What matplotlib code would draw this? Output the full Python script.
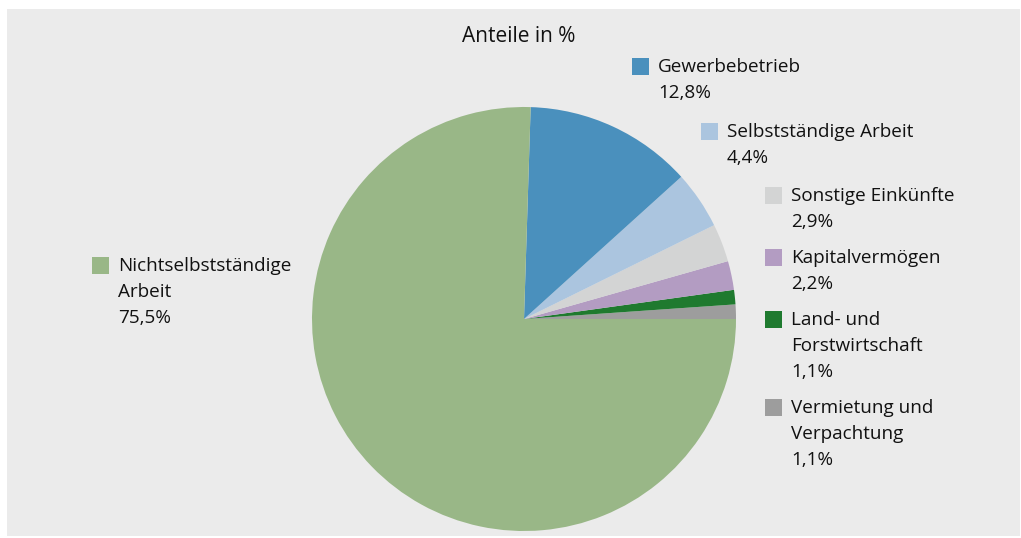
import matplotlib
matplotlib.use('agg')
import matplotlib.pyplot as plt
from matplotlib.patches import Rectangle

plt.rcParams['font.family'] = ['Open Sans', 'DejaVu Sans']

# data, order counter-clockwise from 3 o'clock
categories = ["Vermietung und\nVerpachtung", "Land- und\nForstwirtschaft", "Kapitalvermögen",
              "Sonstige Einkünfte", "Selbstständige Arbeit", "Gewerbebetrieb",
              "Nichtselbstständige\nArbeit"]
shares = [1.1, 1.1, 2.2, 2.9, 4.4, 12.8, 75.5]
pct_labels = ["1,1%", "1,1%", "2,2%", "2,9%", "4,4%", "12,8%", "75,5%"]
colors = ["#9d9d9d", "#1f7a2f", "#b39cc2", "#d3d4d4", "#abc5df", "#4a90bd", "#99b787"]

# label anchor (x of square, y of square top) in pixels
label_pos = [(765, 399), (765, 311), (765, 249), (765, 187), (701, 123), (632, 58), (92, 257)]

W, H = 1021, 538
fig = plt.figure(figsize=(W / 100, H / 100), dpi=100)
fig.patch.set_facecolor("white")

bg = fig.add_axes([0, 0, 1, 1])
bg.set_xlim(0, W)
bg.set_ylim(H, 0)
bg.axis("off")
bg.add_patch(Rectangle((7, 9), 1013, 527, facecolor="#ebebeb", edgecolor="none"))

# pie: centre (524, 319), radius 212 px
cx, cy, r = 524, 319, 212
ax = fig.add_axes([(cx - r) / W, (H - cy - r) / H, 2 * r / W, 2 * r / H])
ax.pie(shares, colors=colors, startangle=0, counterclock=True,
       wedgeprops=dict(linewidth=0))
ax.set_xlim(-1, 1)
ax.set_ylim(-1, 1)
ax.set_aspect("auto")
ax.axis("off")

bg.text(519, 37, "Anteile in %", ha="center", va="center", fontsize=15, color="#111111")

step = 26
for cat, pct, col, (x, y) in zip(categories, pct_labels, colors, label_pos):
    bg.add_patch(Rectangle((x, y), 17, 17, facecolor=col, edgecolor="none"))
    lines = cat.split("\n") + [pct]
    for i, line in enumerate(lines):
        bg.text(x + 26, y + 9 + i * step, line, ha="left", va="center",
                fontsize=13.6, color="#111111")

plt.savefig("out.png", dpi=100)
